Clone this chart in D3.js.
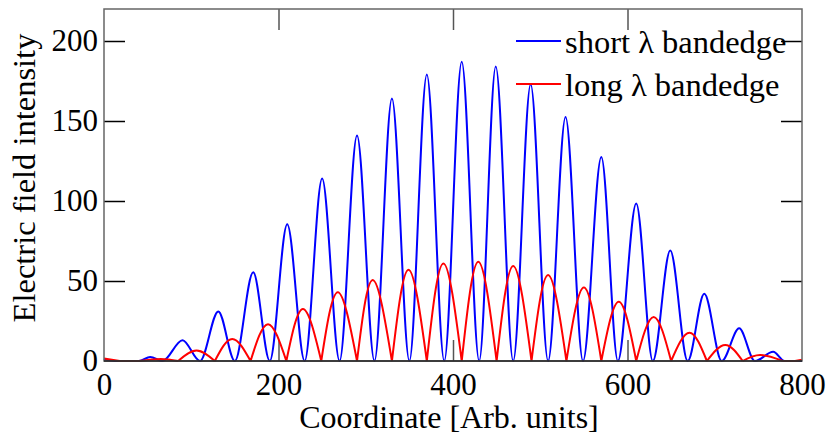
<!DOCTYPE html>
<meta charset="utf-8">
<style>
body { margin: 0; background: #fff; }
text { font-family: "Liberation Serif", "Times New Roman", serif; fill: #000; }
</style>
<body>
<script src="https://d3js.org/d3.v7.min.js"></script>
<script>
// values: peaks and zeros of each standing wave
var blueX = [0, 15, 40, 53, 67, 90, 110, 131, 150, 171, 190, 210, 230, 250, 270, 290, 310, 330, 350, 370, 390, 410, 430, 449, 469, 489, 509, 529, 549, 570, 589, 610, 629, 649, 669, 688, 708, 728, 746, 767, 780, 800];
var blueY = [1.3, 0, 0, 2.5, 0, 13, 0, 31, 0, 55.5, 0, 85.5, 0, 114, 0, 141, 0, 164, 0, 179, 0, 187, 0, 184, 0, 173, 0, 152.5, 0, 127.5, 0, 98.5, 0, 69, 0, 42, 0, 20.5, 0, 5.8, 0, 0];
var redX = [0, 18, 40, 65, 85, 106, 127, 147, 168, 188, 209, 228, 249, 268, 290, 308, 330, 349, 370, 389, 410, 429, 450, 469, 490, 509, 530, 550, 570, 590, 610, 630, 650, 671, 691, 712, 732, 752, 778, 792, 800];
var redY = [1.5, 0, 0, 1.3, 0, 6.5, 0, 13.8, 0, 23, 0, 32.5, 0, 43, 0, 50.6, 0, 57, 0, 61, 0, 62, 0, 59.4, 0, 53.7, 0, 46, 0, 37, 0, 27.5, 0, 17.7, 0, 10, 0, 3.8, 0, 0, 0.8];
var xLabels = [0, 200, 400, 600, 800];
var yLabels = [0, 50, 100, 150, 200];
var legendNames = ["short \u03bb bandedge", "long \u03bb bandedge"];

var width = 828, height = 437;
var plotL = 104, plotR = 802, plotT = 9, plotB = 361;

var svg = d3.select("body").append("svg")
    .attr("width", width)
    .attr("height", height);

var x = d3.scaleLinear().domain([0, 800]).range([plotL, plotR]);
var y = d3.scaleLinear().domain([0, 220]).range([plotB, plotT]);

function makeLine(curve) {
  return d3.line()
    .x(function(d) { return x(d[0]); })
    .y(function(d) { return y(d[1]); })
    .curve(curve);
}

// split a series into humps between its zeros
function humps(pts) {
  var out = [], cur = [pts[0]];
  for (var i = 1; i < pts.length; i++) {
    cur.push(pts[i]);
    if (pts[i][1] === 0 || i === pts.length - 1) {
      out.push(cur);
      cur = [pts[i]];
    }
  }
  return out;
}

var series = [
  {pts: d3.zip(blueX, blueY), color: "#0000ff", curve: d3.curveMonotoneX},
  {pts: d3.zip(redX, redY), color: "#ff0000", curve: d3.curveNatural}
];

// tick marks (inward)
function marks(axis, tx, ty, color) {
  var g = svg.append("g").attr("transform", "translate(" + tx + "," + ty + ")").call(axis);
  g.select(".domain").remove();
  g.selectAll("text").remove();
  g.selectAll("line").attr("stroke", color).attr("stroke-width", 1.5);
}
marks(d3.axisLeft(y).tickValues([50, 100, 150, 200]).tickSize(-21), plotL, 0, "#000");
marks(d3.axisRight(y).tickValues([50, 100, 150, 200]).tickSize(-21), plotR, 0, "#000");
marks(d3.axisTop(x).tickValues([200, 400, 600]).tickSize(-21), 0, plotT, "#555");
marks(d3.axisBottom(x).tickValues([200, 400, 600]).tickSize(-21), 0, plotB, "#555");

series.forEach(function(s) {
  var line = makeLine(s.curve);
  var d = s.curve === d3.curveMonotoneX ? line(s.pts)
        : humps(s.pts).map(function(h) { return line(h); }).join("");
  svg.append("path")
      .attr("class", "curve")
      .attr("d", d)
      .attr("fill", "none")
      .attr("stroke", s.color)
      .attr("stroke-width", 2)
      .attr("stroke-linejoin", "round");
});

// frame
svg.append("rect")
    .attr("x", plotL).attr("y", plotT)
    .attr("width", plotR - plotL).attr("height", plotB - plotT)
    .attr("fill", "none")
    .attr("stroke", "#666")
    .attr("stroke-width", 1.5);
svg.append("line")
    .attr("x1", plotL).attr("x2", plotR)
    .attr("y1", plotB).attr("y2", plotB)
    .attr("stroke", "#222").attr("stroke-width", 1.5);

// tick labels
var gx = svg.append("g").attr("transform", "translate(0," + plotB + ")")
    .call(d3.axisBottom(x).tickValues(xLabels).tickSize(0).tickFormat(d3.format("d")));
gx.select(".domain").remove();
gx.selectAll("text").attr("y", 34).attr("dy", null)
    .style("font-size", "31px").style("font-family", "Liberation Serif").attr("fill", "#000");

var gy = svg.append("g").attr("transform", "translate(" + plotL + ",0)")
    .call(d3.axisLeft(y).tickValues(yLabels).tickSize(0).tickPadding(6).tickFormat(d3.format("d")));
gy.select(".domain").remove();
gy.selectAll("text").attr("dy", "0.32em")
    .style("font-size", "31px").style("font-family", "Liberation Serif").attr("fill", "#000");

// axis titles
svg.append("text")
    .attr("x", (plotL + plotR) / 2 - 4)
    .attr("y", 428)
    .attr("text-anchor", "middle")
    .style("font-size", "32px")
    .text("Coordinate [Arb. units]");

svg.append("text")
    .attr("transform", "translate(35," + 178 + ") rotate(-90)")
    .attr("text-anchor", "middle")
    .style("font-size", "32.5px")
    .text("Electric field intensity");

// legend
var legend = svg.selectAll(".legend")
    .data(series)
  .enter().append("g")
    .attr("class", "legend")
    .attr("transform", function(d, i) { return "translate(516," + (41 + i * 43) + ")"; });
legend.append("line")
    .attr("x1", 0).attr("x2", 45)
    .attr("stroke", function(d) { return d.color; })
    .attr("stroke-width", 2);
legend.append("text")
    .attr("x", 49)
    .attr("y", 12)
    .style("font-size", "32.5px")
    .text(function(d, i) { return legendNames[i]; });
</script>
</body>
